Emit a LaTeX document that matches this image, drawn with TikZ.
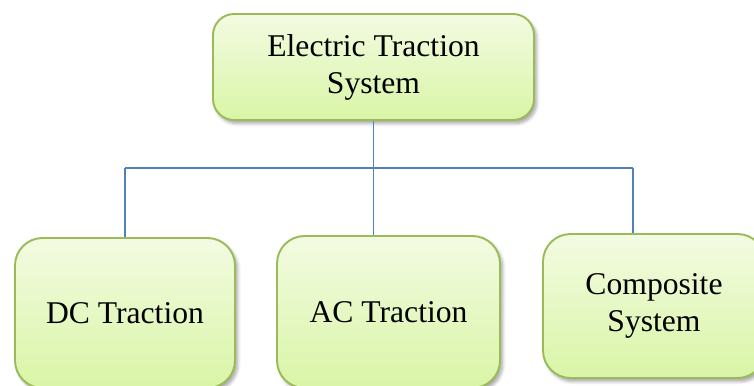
\documentclass[tikz,border=0pt]{standalone}
\usepackage{fontspec}
\setmainfont{Liberation Serif}
\usetikzlibrary{shadows.blur}

\definecolor{boxtop}{HTML}{F3FBE2}
\definecolor{boxbottom}{HTML}{D9F5A6}
\definecolor{boxedge}{HTML}{9BBB59}
\definecolor{busline}{HTML}{4F81BD}

\tikzset{
  tractionbox/.style={draw=boxedge, line width=1.1pt, rounded corners=0.55cm,
    top color=boxtop, bottom color=boxbottom, align=center,
    font=\fontsize{18}{21}\selectfont,
    blur shadow={shadow xshift=1.5pt, shadow yshift=-2pt, shadow blur steps=6, shadow opacity=35}},
  bus/.style={draw=busline, line width=0.8pt}
}

\begin{document}
\begin{tikzpicture}
            \useasboundingbox (0,0) rectangle (15.08,7.70);

            \node[tractionbox, rounded corners=0.42cm, minimum width=6.42cm, minimum height=2.12cm] (ets) at (7.47,6.36) {Electric Traction\\System};
            \node[tractionbox, minimum width=4.40cm, minimum height=3.00cm] (dc) at (2.50,1.44) {DC Traction};
            \node[tractionbox, minimum width=4.46cm, minimum height=3.04cm] (ac) at (7.77,1.46) {AC Traction};
            \node[tractionbox, minimum width=4.44cm, minimum height=2.88cm] (comp) at (13.08,1.58) {Composite\\System};

            \coordinate (busL) at (2.50,4.34);
            \coordinate (busR) at (12.66,4.34);

            \draw[bus] (busL) -- (busR);
            \draw[bus] (busL) -- (dc.north);
            \draw[bus] (ets.south) -- (ets.south |- ac.north);
            \draw[bus] (busR) -- (busR |- comp.north);
        \end{tikzpicture}
\end{document}
